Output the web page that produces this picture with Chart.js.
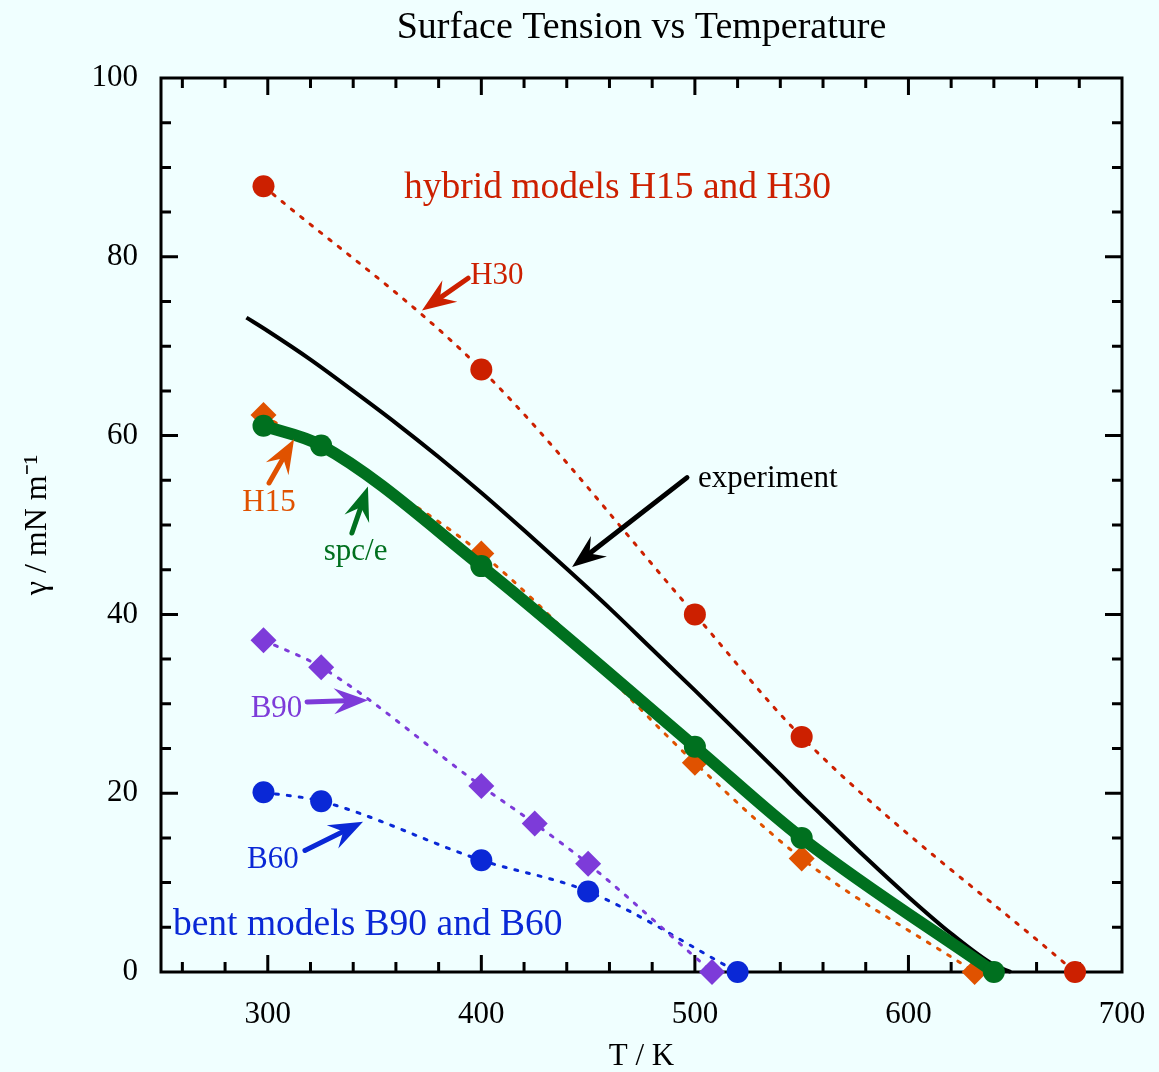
<!DOCTYPE html>
<html>
<head>
<meta charset="utf-8">
<title>Surface Tension vs Temperature</title>
<script src="https://cdn.jsdelivr.net/npm/chart.js@4.4.1/dist/chart.umd.min.js"></script>
<style>
  html, body { margin: 0; padding: 0; background: #f0ffff; }
  #wrap { width: 1159px; height: 1072px; position: relative; }
</style>
</head>
<body>
<div id="wrap"><canvas id="tensionChart"></canvas></div>
<script>
// values (T in K, gamma in mN/m)
const tempH30 = [298, 400, 500, 550, 678];
const gammaH30 = [87.9, 67.4, 40.0, 26.3, 0];

const tempH15 = [298, 400, 500, 550, 631];
const gammaH15 = [62.3, 46.8, 23.4, 12.7, 0];

const tempSpce = [298, 325, 400, 500, 550, 640];
const gammaSpce = [61.1, 58.9, 45.4, 25.2, 15.0, 0];

const tempB90 = [298, 325, 400, 425, 450, 508];
const gammaB90 = [37.1, 34.1, 20.8, 16.6, 12.1, 0];

const tempB60 = [298, 325, 400, 450, 520];
const gammaB60 = [20.1, 19.1, 12.5, 9.0, 0];

const tempExp = [290, 300, 320, 340, 360, 380, 400, 420, 440, 460, 480, 500, 520, 540, 550, 560, 580, 600, 620, 640, 648];
const gammaExp = [73.2, 71.7, 68.5, 65.0, 61.4, 57.6, 53.6, 49.4, 45.1, 40.7, 36.1, 31.5, 26.8, 22.1, 19.7, 17.4, 12.8, 8.4, 4.3, 0.8, 0];

const xTickLabels = [300, 400, 500, 600, 700];
const yTickLabels = [0, 20, 40, 60, 80, 100];

const RED = '#cc2000';
const ORANGE = '#e05200';
const GREEN = '#00701f';
const PURPLE = '#7d3bd9';
const BLUE = '#0a28d6';
const SERIF = '"Liberation Serif", "Times New Roman", serif';

function toPoints(xs, ys) {
    return xs.map((t, i) => ({ x: t, y: ys[i] }));
}

// text labels and arrows, placed in data coordinates
const notes = [
    { text: 'hybrid models H15 and H30', x: 363.8, y: 86.6, color: RED, size: 37.5, align: 'left' },
    { text: 'H30', x: 407.3, y: 77.0, color: RED, size: 31, align: 'center' },
    { text: 'experiment', x: 501.5, y: 54.3, color: '#000', size: 31, align: 'left' },
    { text: 'H15', x: 300.6, y: 51.6, color: ORANGE, size: 31, align: 'center' },
    { text: 'spc/e', x: 341.1, y: 46.1, color: GREEN, size: 31, align: 'center' },
    { text: 'B90', x: 304.1, y: 28.5, color: PURPLE, size: 31, align: 'center' },
    { text: 'B60', x: 302.4, y: 11.6, color: BLUE, size: 31, align: 'center' },
    { text: 'bent models B90 and B60', x: 255.6, y: 4.1, color: BLUE, size: 37.5, align: 'left' }
];
const arrows = [
    { from: [393.8, 77.6], to: [372.2, 74.0], color: RED },
    { from: [496.3, 55.3], to: [442.5, 45.3], color: '#000' },
    { from: [300.6, 54.7], to: [312.3, 59.6], color: ORANGE },
    { from: [339.4, 49.1], to: [346.9, 54.3], color: GREEN },
    { from: [318.4, 30.2], to: [346.9, 30.4], color: PURPLE },
    { from: [317.4, 13.6], to: [344.6, 16.8], color: BLUE }
];

const background = {
    id: 'background',
    beforeDraw(chart) {
        const ctx = chart.ctx;
        ctx.save();
        ctx.fillStyle = '#f0ffff';
        ctx.fillRect(0, 0, chart.width, chart.height);
        ctx.restore();
    }
};

// frame with inward ticks on all four sides
const frameTicks = {
    id: 'frameTicks',
    beforeDatasetsDraw(chart) {
        const { ctx, chartArea: a, scales: { x, y } } = chart;
        ctx.save();
        ctx.strokeStyle = '#000';
        ctx.lineWidth = 3;
        ctx.beginPath();
        for (let v = 260; v < 700; v += 20) {
            const px = x.getPixelForValue(v);
            const len = xTickLabels.includes(v) ? 17 : 10;
            ctx.moveTo(px, a.bottom); ctx.lineTo(px, a.bottom - len);
            ctx.moveTo(px, a.top); ctx.lineTo(px, a.top + len);
        }
        for (let v = 5; v < 100; v += 5) {
            const py = y.getPixelForValue(v);
            const len = yTickLabels.includes(v) ? 17 : 10;
            ctx.moveTo(a.left, py); ctx.lineTo(a.left + len, py);
            ctx.moveTo(a.right, py); ctx.lineTo(a.right - len, py);
        }
        ctx.stroke();
        ctx.strokeRect(a.left, a.top, a.right - a.left, a.bottom - a.top);
        ctx.restore();
    }
};

function drawArrow(ctx, x0, y0, x1, y1, color) {
    const ang = Math.atan2(y1 - y0, x1 - x0);
    const headLen = 34, headHalf = 13, notch = 22;
    ctx.save();
    ctx.strokeStyle = color;
    ctx.fillStyle = color;
    ctx.lineWidth = 5;
    ctx.lineCap = 'round';
    ctx.beginPath();
    ctx.moveTo(x0, y0);
    ctx.lineTo(x1 - Math.cos(ang) * notch, y1 - Math.sin(ang) * notch);
    ctx.stroke();
    ctx.translate(x1, y1);
    ctx.rotate(ang);
    ctx.beginPath();
    ctx.moveTo(0, 0);
    ctx.lineTo(-headLen, -headHalf);
    ctx.lineTo(-notch, 0);
    ctx.lineTo(-headLen, headHalf);
    ctx.closePath();
    ctx.fill();
    ctx.restore();
}

const annotations = {
    id: 'annotations',
    afterDatasetsDraw(chart) {
        const { ctx, scales: { x, y } } = chart;
        arrows.forEach(a => {
            drawArrow(ctx,
                x.getPixelForValue(a.from[0]), y.getPixelForValue(a.from[1]),
                x.getPixelForValue(a.to[0]), y.getPixelForValue(a.to[1]), a.color);
        });
        ctx.save();
        ctx.textBaseline = 'alphabetic';
        notes.forEach(n => {
            ctx.font = n.size + 'px ' + SERIF;
            ctx.fillStyle = n.color;
            ctx.textAlign = n.align;
            ctx.fillText(n.text, x.getPixelForValue(n.x), y.getPixelForValue(n.y));
        });
        ctx.restore();
    }
};

const dotted = { borderWidth: 3, borderDash: [3, 9], borderCapStyle: 'round' };

const ctx = document.getElementById('tensionChart').getContext('2d');
new Chart(ctx, {
    type: 'scatter',
    data: {
        datasets: [
            {
                label: 'spc/e',
                data: toPoints(tempSpce, gammaSpce),
                showLine: true,
                borderColor: GREEN,
                backgroundColor: GREEN,
                borderWidth: 12,
                cubicInterpolationMode: 'monotone',
                pointStyle: 'circle',
                pointRadius: 11,
                pointBorderWidth: 0,
                order: 1
            },
            {
                label: 'experiment',
                data: toPoints(tempExp, gammaExp),
                showLine: true,
                borderColor: '#000',
                borderWidth: 4,
                pointRadius: 0,
                cubicInterpolationMode: 'monotone',
                order: 2
            },
            {
                label: 'H15',
                data: toPoints(tempH15, gammaH15),
                showLine: true,
                borderColor: ORANGE,
                backgroundColor: ORANGE,
                ...dotted,
                cubicInterpolationMode: 'monotone',
                pointStyle: 'rectRot',
                pointRadius: 13,
                pointBorderWidth: 0,
                order: 3
            },
            {
                label: 'H30',
                data: toPoints(tempH30, gammaH30),
                showLine: true,
                borderColor: RED,
                backgroundColor: RED,
                ...dotted,
                cubicInterpolationMode: 'monotone',
                pointStyle: 'circle',
                pointRadius: 11,
                pointBorderWidth: 0,
                order: 4
            },
            {
                label: 'B90',
                data: toPoints(tempB90, gammaB90),
                showLine: true,
                borderColor: PURPLE,
                backgroundColor: PURPLE,
                ...dotted,
                cubicInterpolationMode: 'monotone',
                pointStyle: 'rectRot',
                pointRadius: 13,
                pointBorderWidth: 0,
                order: 5
            },
            {
                label: 'B60',
                data: toPoints(tempB60, gammaB60),
                showLine: true,
                borderColor: BLUE,
                backgroundColor: BLUE,
                ...dotted,
                cubicInterpolationMode: 'monotone',
                pointStyle: 'circle',
                pointRadius: 11,
                pointBorderWidth: 0,
                order: 6
            }
        ]
    },
    options: {
        responsive: true,
        maintainAspectRatio: false,
        animation: false,
        clip: false,
        layout: { padding: { left: 0, right: 37, top: 0, bottom: 0 } },
        plugins: {
            legend: { display: false },
            tooltip: { enabled: false },
            title: {
                display: true,
                text: 'Surface Tension vs Temperature',
                color: '#000',
                fullSize: false,
                font: { family: SERIF, size: 38, weight: 'normal', lineHeight: 1.2 },
                padding: { top: 5, bottom: 27.4 }
            }
        },
        scales: {
            x: {
                type: 'linear',
                min: 250,
                max: 700,
                afterBuildTicks: s => { s.ticks = xTickLabels.map(v => ({ value: v })); },
                afterFit: s => { s.height = 100; s.paddingLeft = 0; s.paddingRight = 0; },
                grid: { display: false, drawTicks: false, tickLength: 0 },
                border: { display: false },
                ticks: {
                    color: '#000',
                    padding: 24,
                    maxRotation: 0,
                    autoSkip: false,
                    font: { family: SERIF, size: 31 }
                },
                title: {
                    display: true,
                    text: 'T / K',
                    color: '#000',
                    font: { family: SERIF, size: 31, lineHeight: 0.95 },
                    padding: { top: 0, bottom: 0 }
                }
            },
            y: {
                type: 'linear',
                min: 0,
                max: 100,
                afterBuildTicks: s => { s.ticks = yTickLabels.map(v => ({ value: v })); },
                afterFit: s => { s.width = 161; s.paddingTop = 0; s.paddingBottom = 0; },
                grid: { display: false, drawTicks: false, tickLength: 0 },
                border: { display: false },
                ticks: {
                    color: '#000',
                    padding: 23,
                    font: { family: SERIF, size: 31 }
                },
                title: {
                    display: true,
                    text: 'γ / mN m⁻¹',
                    color: '#000',
                    font: { family: SERIF, size: 32, lineHeight: 1.2 },
                    padding: { top: 18, bottom: 0 }
                }
            }
        }
    },
    plugins: [background, frameTicks, annotations]
});
</script>
</body>
</html>
